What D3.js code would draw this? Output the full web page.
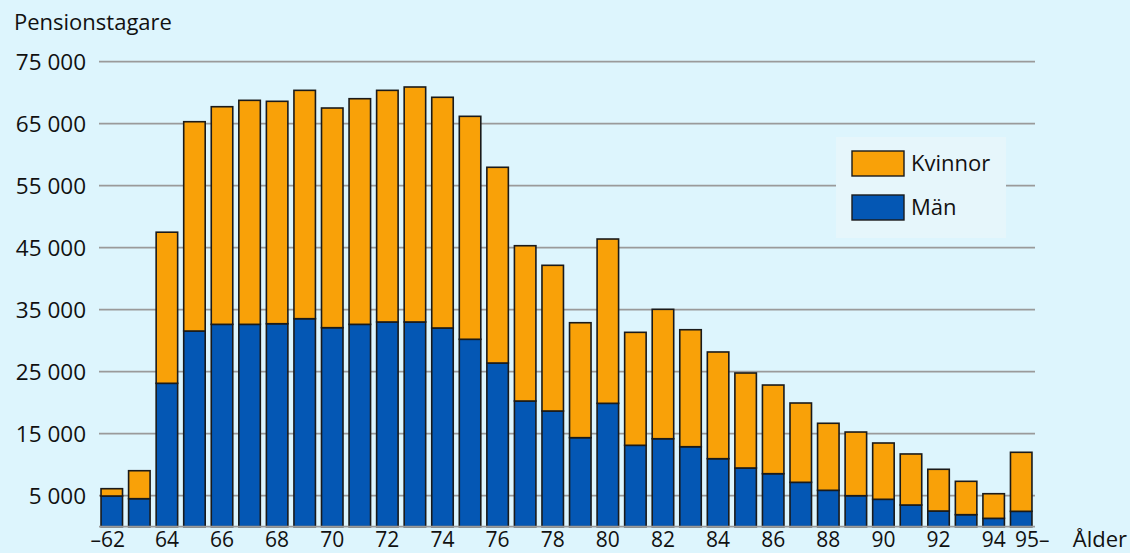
<!DOCTYPE html>
<html>
<head>
<meta charset="utf-8">
<script src="https://cdn.jsdelivr.net/npm/d3@7"></script>
<style>
  html, body { margin: 0; padding: 0; background: #ddf5fd; }
  svg { display: block; font-family: "Open Sans", sans-serif; }
</style>
</head>
<body>
<div id="chart"></div>
<script>
var ages = ["–62", "63", "64", "65", "66", "67", "68", "69", "70", "71", "72", "73",
  "74", "75", "76", "77", "78", "79", "80", "81", "82", "83", "84", "85", "86",
  "87", "88", "89", "90", "91", "92", "93", "94", "95–"];

// totals, men
var total = [6130, 9030, 47500, 65320, 67740, 68770, 68610, 70380, 67530, 69030, 70380, 70920,
  69260, 66190, 57970, 45320, 42160, 32900, 46400, 31350, 35060, 31770, 28180, 24790, 22850,
  19950, 16680, 15270, 13500, 11730, 9260, 7320, 5320, 12000];
var men = [4950, 4520, 23130, 31560, 32640, 32640, 32740, 33550, 32100, 32640, 33020, 33020,
  32050, 30230, 26400, 20270, 18660, 14360, 19900, 13130, 14190, 12900, 10970, 9470, 8550,
  7160, 5870, 5000, 4420, 3500, 2530, 1940, 1350, 2480];
var women = total.map((t, i) => t - men[i]);

var yTicks = [5000, 15000, 25000, 35000, 45000, 55000, 65000, 75000];

var width = 1130;
var height = 553;

var rows = ages.map((a, i) => ({age: a, men: men[i], women: women[i]}));

var color = {men: "#0457b4", women: "#f9a108"};
var names = {men: "Män", women: "Kvinnor"};

var svg = d3.select("#chart").append("svg")
    .attr("width", width)
    .attr("height", height);

var x = d3.scaleBand()
    .domain(ages)
    .range([98, 1035])
    .paddingInner(0.22)
    .paddingOuter(0.11);

var y = d3.scaleLinear()
    .domain([0, 75000])
    .range([526.7, 61.7]);

var fmt = v => d3.format(",")(v).replace(/,/g, " ");

// grid
svg.append("g")
  .selectAll("line")
  .data(yTicks)
  .join("line")
    .attr("x1", 99)
    .attr("x2", 1035)
    .attr("y1", d => y(d))
    .attr("y2", d => y(d))
    .attr("stroke", "#9a9a9a")
    .attr("stroke-width", 1.8);

svg.append("g")
    .attr("font-size", 22.5)
    .attr("fill", "#111")
  .selectAll("text")
  .data(yTicks)
  .join("text")
    .attr("x", 86)
    .attr("y", d => y(d))
    .attr("dy", "0.36em")
    .attr("text-anchor", "end")
    .text(fmt);

svg.append("text")
    .attr("x", 14)
    .attr("y", 30)
    .attr("font-size", 22)
    .attr("fill", "#111")
    .text("Pensionstagare");

// bars
var stack = d3.stack().keys(["men", "women"])(rows);

svg.append("g")
  .selectAll("g")
  .data(stack)
  .join("g")
    .attr("fill", d => color[d.key])
  .selectAll("rect")
  .data(d => d)
  .join("rect")
    .attr("x", d => x(d.data.age))
    .attr("width", x.bandwidth())
    .attr("y", d => y(d[1]))
    .attr("height", d => y(d[0]) - y(d[1]))
    .attr("stroke", "#1a1a1a")
    .attr("stroke-width", 1.6);

// baseline
svg.append("line")
    .attr("x1", 99)
    .attr("x2", 1035)
    .attr("y1", y(0))
    .attr("y2", y(0))
    .attr("stroke", "#9a9a9a")
    .attr("stroke-width", 1.8);

// x labels, every second age plus the open ends
var shown = ages.filter((a, i) => i == 0 || i == ages.length - 1 || (+a) % 2 == 0);

svg.append("g")
    .attr("font-size", 21)
    .attr("fill", "#111")
  .selectAll("text")
  .data(shown)
  .join("text")
    .attr("x", d => x(d) + x.bandwidth() / 2)
    .attr("dx", (d, i) => i == shown.length - 1 ? 11 : (i == 0 ? -4 : 0))
    .attr("y", 547)
    .attr("text-anchor", "middle")
    .text(d => d);

svg.append("text")
    .attr("x", 1127)
    .attr("y", 547)
    .attr("text-anchor", "end")
    .attr("font-size", 22)
    .attr("fill", "#111")
    .text("Ålder");

// legend
var legend = svg.append("g");

legend.append("rect")
    .attr("x", 836)
    .attr("y", 137)
    .attr("width", 170)
    .attr("height", 101)
    .attr("fill", "#e6f6fb");

var items = legend.selectAll("g")
  .data(["women", "men"])
  .join("g")
    .attr("transform", (d, i) => `translate(852, ${151 + i * 44})`);

items.append("rect")
    .attr("width", 52)
    .attr("height", 25)
    .attr("fill", d => color[d])
    .attr("stroke", "#1a1a1a")
    .attr("stroke-width", 1.4);

items.append("text")
    .attr("x", 59)
    .attr("y", 12.5)
    .attr("dy", "0.36em")
    .attr("font-size", 22)
    .attr("fill", "#111")
    .text(d => names[d]);
</script>
</body>
</html>
